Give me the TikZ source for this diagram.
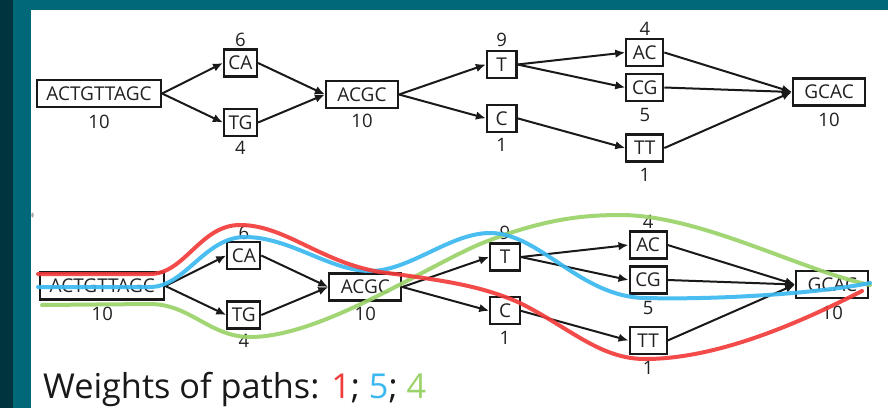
\documentclass[tikz,border=0pt]{standalone}
\usepackage{fontspec}
\setmainfont{Open Sans}
\usetikzlibrary{arrows.meta}
\definecolor{tealA}{HTML}{006878}
\definecolor{tealB}{HTML}{00343E}
\definecolor{pred}{HTML}{F23B3B}
\definecolor{pblue}{HTML}{3BB8F0}
\definecolor{pgreen}{HTML}{9BD36A}
\definecolor{ink}{HTML}{222222}
\tikzset{
 box/.style={draw=black!90, line width=2.1pt, minimum height=27pt, inner sep=0pt, text=ink, font=\fontsize{19}{22}\selectfont},
 lab/.style={inner sep=0pt, text=ink, font=\fontsize{18.5}{22}\selectfont},
 edge/.style={line width=2pt, draw=black!90, -{Latex[length=10pt,width=8.5pt]}},
 pathline/.style={line width=4pt, line cap=round, opacity=0.92},
}
\newcommand\dgraph[1]{%
 \node[box, minimum width=124pt] (#1A) at (99,93.5) {ACTGTTAGC};
 \node[box, minimum width=33pt] (#1CA) at (240.5,63) {CA};
 \node[box, minimum width=33pt] (#1TG) at (240.5,122.5) {TG};
 \node[box, minimum width=72pt] (#1ACGC) at (362,94.5) {ACGC};
 \node[box, minimum width=29.5pt] (#1T) at (501.7,64.5) {T};
 \node[box, minimum width=29.5pt] (#1C) at (501.7,118.3) {C};
 \node[box, minimum width=37pt] (#1AC) at (644.8,52.5) {AC};
 \node[box, minimum width=37pt] (#1CG) at (644.8,87.5) {CG};
 \node[box, minimum width=37pt] (#1TT) at (644.8,148) {TT};
 \node[box, minimum width=72pt] (#1GCAC) at (829,92) {GCAC};
 \node[lab] (#1lA) at (99,121.7) {10};
 \node[lab] (#1lCA) at (240.5,40) {6};
 \node[lab] (#1lTG) at (240.5,148) {4};
 \node[lab] (#1lACGC) at (362,121) {10};
 \node[lab] (#1lT) at (501.7,40) {9};
 \node[lab] (#1lC) at (501.7,145) {1};
 \node[lab] (#1lAC) at (644.8,29.3) {4};
 \node[lab] (#1lCG) at (644.8,115) {5};
 \node[lab] (#1lTT) at (644.8,175) {1};
 \node[lab] (#1lGCAC) at (829,120) {10};
 \draw[edge] (#1A.east) -- (#1CA.west);
 \draw[edge] (#1A.east) -- (#1TG.west);
 \draw[edge] (#1CA.east) -- (#1ACGC.west);
 \draw[edge] (#1TG.east) -- (#1ACGC.west);
 \draw[edge] (#1ACGC.east) -- (#1T.west);
 \draw[edge] (#1ACGC.east) -- (#1C.west);
 \draw[edge] (#1T.east) -- (#1AC.west);
 \draw[edge] (#1T.east) -- (#1CG.west);
 \draw[edge] (#1C.east) -- (#1TT.west);
 \draw[edge] (#1AC.east) -- (#1GCAC.west);
 \draw[edge] (#1CG.east) -- (#1GCAC.west);
 \draw[edge] (#1TT.east) -- (#1GCAC.west);
}
\begin{document}
\begin{tikzpicture}[x=1pt,y=-1pt]
\useasboundingbox (0,0) rectangle (888,408);
\fill[white] (0,0) rectangle (888,408);
\fill[tealA] (0,0) rectangle (888,10);
\fill[tealA] (0,0) rectangle (31,408);
\fill[tealB] (0,0) rectangle (13,408);
\fill[gray!70] (32.5,215) ellipse (1.2pt and 2.5pt);
% top graph
\dgraph{u}
% bottom graph
\begin{scope}[shift={(3.3,192.5)}]
\dgraph{d}
\end{scope}
% paths
\draw[pathline, pgreen] (42,305) -- (150,304) .. controls (190,304) and (210,337) .. (250,337)
  .. controls (320,337) and (420,270) .. (480,244) .. controls (540,220) and (580,215) .. (620,215)
  .. controls (700,215) and (800,270) .. (870,285);
\draw[pathline, pblue] (38,287) -- (150,287) .. controls (185,287) and (205,237) .. (245,237)
  .. controls (290,237) and (330,271) .. (370,271) .. controls (410,271) and (450,233) .. (490,233)
  .. controls (540,233) and (580,297) .. (645,298) .. controls (720,300) and (820,293) .. (870,283);
\draw[pathline, pred] (38,274) -- (150,274) .. controls (185,274) and (200,225) .. (240,225)
  .. controls (285,225) and (320,262) .. (380,272) .. controls (440,280) and (480,285) .. (520,303)
  .. controls (570,328) and (600,359) .. (645,359) .. controls (720,359) and (805,320) .. (862,291);
\node[anchor=base west, inner sep=0pt, text=black!90, font=\fontsize{34.3}{40}\selectfont] (title) at (43,398) {Weights of paths: \textcolor{pred}{1}; \textcolor{pblue}{5}; \textcolor{pgreen}{4}};
\end{tikzpicture}
\end{document}
